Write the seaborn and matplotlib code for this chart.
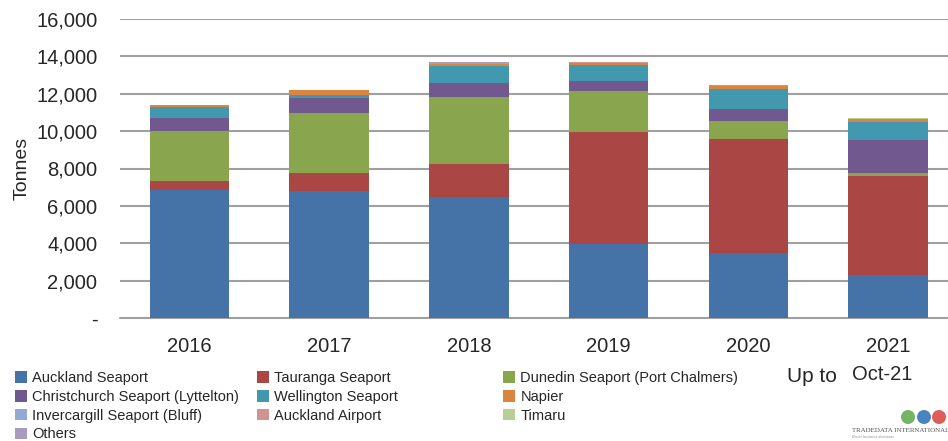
import matplotlib
matplotlib.use("Agg")
import matplotlib.pyplot as plt
import seaborn as sns
import numpy as np
import pandas as pd
from matplotlib.patches import Rectangle, Ellipse

years = ['2016', '2017', '2018', '2019', '2020', '2021']
auckland_seaport = [6850, 6800, 6470, 3960, 3480, 2300]
tauranga_seaport = [500, 940, 1750, 5990, 6080, 5300]
dunedin_seaport = [2640, 3210, 3600, 2180, 960, 145]
christchurch_seaport = [730, 800, 770, 550, 640, 1765]
wellington_seaport = [555, 160, 890, 855, 1100, 995]
napier = [105, 280, 120, 100, 145, 145]
invercargill_seaport = [0, 0, 0, 0, 0, 0]
auckland_airport = [10, 10, 20, 60, 55, 0]
timaru = [0, 0, 0, 0, 0, 55]
others = [0, 0, 90, 0, 0, 0]

series_names = ['Auckland Seaport', 'Tauranga Seaport', 'Dunedin Seaport (Port Chalmers)',
                'Christchurch Seaport (Lyttelton)', 'Wellington Seaport', 'Napier',
                'Invercargill Seaport (Bluff)', 'Auckland Airport', 'Timaru', 'Others']
series_values = [auckland_seaport, tauranga_seaport, dunedin_seaport, christchurch_seaport,
                 wellington_seaport, napier, invercargill_seaport, auckland_airport, timaru, others]
colors = ['#4572A7', '#AA4643', '#89A54E', '#71588F', '#4198AF', '#DB843D',
          '#93A9CF', '#D19392', '#B9CD96', '#A99BBD']

sns.set_style("white")
plt.rcParams['font.family'] = ['Liberation Sans', 'DejaVu Sans']

W, H = 948, 441
fig = plt.figure(figsize=(W / 100, H / 100), dpi=100)
ax = fig.add_axes([119.6 / W, 123 / H, 838.4 / W, 299 / H])

bottom = np.zeros(len(years))
for name, vals, c in zip(series_names, series_values, colors):
    v = np.array(vals, dtype=float)
    sns.barplot(x=years, y=v, bottom=bottom, color=c, width=0.57, ax=ax,
                edgecolor='none', linewidth=0, saturation=1, zorder=3)
    bottom += v

ax.set_ylim(0, 16000)
ax.set_xlim(-0.5, 5.5)
yt = np.arange(0, 16001, 2000)
ax.set_yticks(yt)
ax.set_yticklabels(['-' if t == 0 else f'{t:,}' for t in yt])
for t in yt:
    ax.axhline(t, color='#A0A0A0', lw=1.5, zorder=1, clip_on=False if t == 0 else True)
for s in ax.spines.values():
    s.set_visible(False)
ax.tick_params(axis='y', length=0, pad=16, labelsize=14.5)
ax.tick_params(axis='x', length=0, pad=14, labelsize=14.5)
ax.set_xlabel('')
ax.set_ylabel('Tonnes', fontsize=14, labelpad=4)

# Legend: three columns with equal spacing
cols = [[0, 3, 6, 9], [1, 4, 7], [2, 5, 8]]
col_x = [15, 257, 503]
for cx, idxs in zip(col_x, cols):
    handles = [Rectangle((0, 0), 1, 1, facecolor=colors[i], edgecolor='none') for i in idxs]
    labels = [series_names[i] for i in idxs]
    fig.legend(handles, labels, loc='upper left', bbox_to_anchor=(cx / W, 1 - 371 / H),
               frameon=False, fontsize=10.5, handlelength=0.85, handleheight=0.85,
               handletextpad=0.35, labelspacing=0.33, borderaxespad=0, borderpad=0)

fig.text(787 / W, 1 - 377 / H, 'Up to', fontsize=15, va='center', ha='left')
fig.text(852 / W, 1 - 375 / H, 'Oct-21', fontsize=14.5, va='center', ha='left')

# Logo
for cx, c in zip([908, 924, 939], ['#5BA84A', '#2A6FB5', '#D9403A']):
    fig.patches.append(Ellipse((cx / W, 1 - 417 / H), 14 / W, 14 / H, transform=fig.transFigure,
                               facecolor=c, edgecolor='none', alpha=0.85))
fig.text(852 / W, 1 - 430 / H, 'TRADEDATA INTERNATIONAL', fontsize=5, family='Liberation Serif',
         color='#555555', va='center', ha='left')
fig.text(852 / W, 1 - 437 / H, 'Better business decisions', fontsize=3, family='Liberation Serif',
         color='#888888', va='center', ha='left', style='italic')

fig.savefig('out.png', dpi=100)
